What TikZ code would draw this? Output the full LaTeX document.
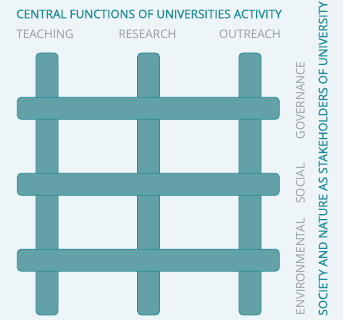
\documentclass[tikz,border=0pt]{standalone}
\usepackage{fontspec}
\setmainfont{Open Sans}
\newfontfamily\headfont[FakeBold=0.6]{Open Sans}
\usepackage{tikz}

\definecolor{bgblue}{HTML}{EEF5F9}
\definecolor{barfill}{HTML}{62A1A6}
\definecolor{barline}{HTML}{2C8C96}
\definecolor{headteal}{HTML}{1C8996}
\definecolor{labelgray}{HTML}{9A9C9E}

\tikzset{
	bar/.style={fill=barfill,draw=barline,line width=0.8pt,rounded corners=4pt},
	headtxt/.style={text=headteal,font=\headfont\fontsize{11.8}{13}\selectfont,inner sep=0pt},
	functxt/.style={text=labelgray,font=\fontsize{11.8}{13}\selectfont,inner sep=0pt}
}

\begin{document}
\begin{tikzpicture}[x=1pt,y=-1pt]
	\fill [bgblue] (0,0) rectangle (343,320);
	\useasboundingbox (0,0) rectangle (343,320);
	
	\node [headtxt](TITLE) at (149,14) {CENTRAL FUNCTIONS OF UNIVERSITIES ACTIVITY};
	\node [functxt](TEACH) at (45,34) {TEACHING};
	\node [functxt](RESEARCH) at (147.5,34) {RESEARCH};
	\node [functxt](OUTREACH) at (250,34) {OUTREACH};
	
	\node [headtxt,rotate=90](SOCIETY) at (323,158.5) {SOCIETY AND NATURE AS STAKEHOLDERS OF UNIVERSITY};
	\node [functxt,rotate=90](ENV) at (300.5,267) {ENVIRONMENTAL};
	\node [functxt,rotate=90](SOCIAL) at (300.5,183.5) {SOCIAL};
	\node [functxt,rotate=90](GOV) at (300.5,100.5) {GOVERNANCE};
	
	% columns
	\foreach \cx in {47,148.5,250}
		\draw [bar] (\cx-11,53) rectangle (\cx+11,315);
	% rows
	\foreach \cy in {108.3,184.3,260.2}
		\draw [bar] (17.3,\cy-11) rectangle (279.3,\cy+11);
	
\end{tikzpicture}
\end{document}
